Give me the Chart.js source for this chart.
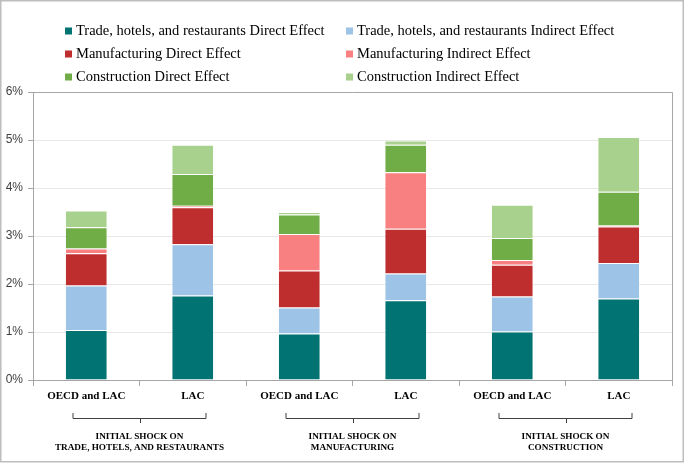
<!DOCTYPE html>
<html><head><meta charset="utf-8">
<script src="https://cdn.jsdelivr.net/npm/chart.js@4/dist/chart.umd.min.js"></script>
<style>html,body{margin:0;padding:0;background:#fff}#wrap{width:685px;height:463px;position:relative}</style>
</head><body><div id="wrap"><canvas id="c" width="685" height="463"></canvas></div>
<script>
const categories = ['OECD and LAC','LAC','OECD and LAC','LAC','OECD and LAC','LAC'];
const groupLabels = [['INITIAL SHOCK ON','TRADE, HOTELS, AND RESTAURANTS'],['INITIAL SHOCK ON','MANUFACTURING'],['INITIAL SHOCK ON','CONSTRUCTION']];
const seriesNames = ['Trade, hotels, and restaurants Direct Effect','Trade, hotels, and restaurants Indirect Effect','Manufacturing Direct Effect','Manufacturing Indirect Effect','Construction Direct Effect','Construction Indirect Effect'];
const tradeDirect = [1.04,1.76,0.97,1.66,1.01,1.70];
const tradeIndirect = [0.93,1.07,0.54,0.56,0.73,0.74];
const manufDirect = [0.67,0.77,0.77,0.93,0.66,0.76];
const manufIndirect = [0.10,0.03,0.76,1.18,0.10,0.02];
const constrDirect = [0.44,0.66,0.41,0.57,0.46,0.70];
const constrIndirect = [0.35,0.61,0.05,0.09,0.69,1.14];
const yTickValues = [0,1,2,3,4,5,6];

const colors = ['#007372','#9DC3E6','#BF2E2E','#F88080','#70AD47','#A9D18E'];
const values = [tradeDirect,tradeIndirect,manufDirect,manufIndirect,constrDirect,constrIndirect];

const extras = {
  id:'extras',
  afterDraw(chart){
    const ctx = chart.ctx, a = chart.chartArea, x = chart.scales.x;
    ctx.save();
    // plot border top/right
    ctx.strokeStyle = '#a6a6a6'; ctx.lineWidth = 1;
    ctx.beginPath();
    ctx.moveTo(a.left, a.top+0.5); ctx.lineTo(a.right+0.5, a.top+0.5); ctx.lineTo(a.right+0.5, a.bottom);
    ctx.stroke();
    // legend
    const cols = [[0,2,4],[1,3,5]];
    const boxX = [65,346], rowsY = [31,54,77];
    ctx.font = '14.5px "Liberation Serif"';
    ctx.textBaseline = 'middle'; ctx.textAlign = 'left';
    cols.forEach((col,ci)=>{
      col.forEach((di,ri)=>{
        const ds = chart.data.datasets[di];
        ctx.fillStyle = ds.backgroundColor;
        ctx.fillRect(boxX[ci], rowsY[ri]-3.5, 7, 7);
        ctx.fillStyle = '#000';
        ctx.fillText(ds.label, boxX[ci]+11, rowsY[ri]+0.5);
      });
    });
    // brackets and group labels
    groupLabels.forEach((lines,g)=>{
      const cx = (x.getPixelForValue(2*g)+x.getPixelForValue(2*g+1))/2;
      const l = cx-67, r = cx+67;
      ctx.strokeStyle = '#404040'; ctx.lineWidth = 1;
      ctx.beginPath();
      ctx.moveTo(l+0.5,413); ctx.lineTo(l+0.5,418.5); ctx.lineTo(r-0.5,418.5); ctx.lineTo(r-0.5,413);
      ctx.moveTo(Math.round(cx)+0.5,418.5); ctx.lineTo(Math.round(cx)+0.5,423);
      ctx.stroke();
      ctx.fillStyle = '#000';
      ctx.font = 'bold 9.2px "Liberation Serif"';
      ctx.textAlign = 'center';
      ctx.fillText(lines[0], cx, 437);
      ctx.fillText(lines[1], cx, 448);
    });
    // outer border
    ctx.strokeStyle = '#bdbdbd'; ctx.lineWidth = 1.5;
    ctx.strokeRect(0.75,0.75,682.5,461);
    ctx.restore();
  }
};

new Chart(document.getElementById('c'), {
  type:'bar',
  data:{
    labels: categories,
    datasets: values.map((v,i)=>({label:seriesNames[i], data:v, backgroundColor:colors[i], borderColor:'rgba(255,255,255,0.3)', borderWidth:1, barPercentage:0.4, categoryPercentage:1.0}))
  },
  options:{
    responsive:false, animation:false,
    layout:{padding:{left:0,top:92,right:13,bottom:0}},
    plugins:{legend:{display:false}, tooltip:{enabled:false}},
    scales:{
      x:{stacked:true,
        grid:{offset:true, drawOnChartArea:false, drawTicks:true, tickLength:6, color:'#a6a6a6'},
        border:{color:'#a6a6a6'},
        ticks:{font:{family:'Liberation Serif', size:11, weight:'bold'}, color:'#000', padding:4, maxRotation:0, autoSkip:false},
        afterFit(s){ s.height = 83; }
      },
      y:{stacked:true, min:0, max:6,
        afterBuildTicks(s){ s.ticks = yTickValues.map(v=>({value:v})); },
        ticks:{stepSize:1, callback:v=>v+'%', font:{family:'Liberation Sans', size:12}, color:'#404040', padding:5},
        grid:{color:(c)=> (c.tick && c.tick.value===0) ? 'rgba(0,0,0,0)' : '#e8e8e8', tickColor:'#a6a6a6', tickLength:5},
        border:{color:'#a6a6a6'},
        afterFit(s){ s.width = 33; }
      }
    }
  },
  plugins:[extras]
});
</script></body></html>
